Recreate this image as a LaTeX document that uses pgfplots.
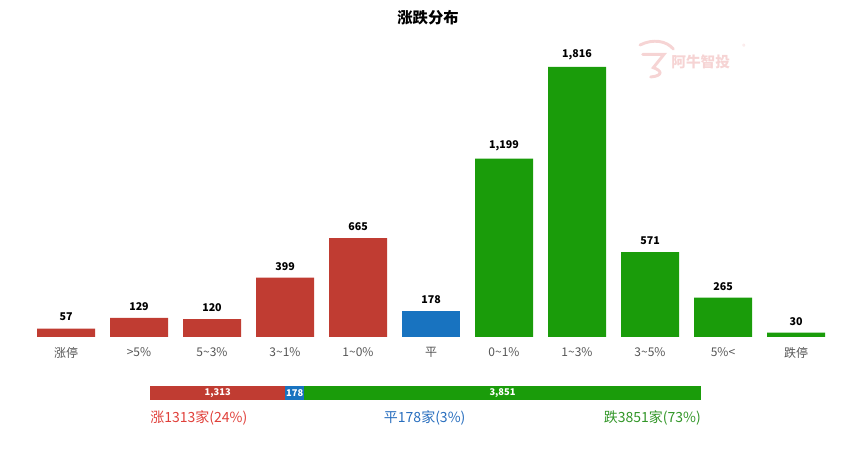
\documentclass[border=0pt]{standalone}
\usepackage{fontspec}
\setmainfont{Noto Sans CJK SC}
\usepackage{pgfplots}
\pgfplotsset{compat=1.18}

\definecolor{upred}{RGB}{192,60,50}
\definecolor{flatblue}{RGB}{24,115,192}
\definecolor{downgreen}{RGB}{26,156,10}
\definecolor{txtred}{RGB}{224,64,58}
\definecolor{txtblue}{RGB}{40,110,190}
\definecolor{txtgreen}{RGB}{50,150,40}
\definecolor{lblgray}{RGB}{85,85,85}
\definecolor{wmark}{RGB}{246,212,212}

% 1 px of the reference = 0.75pt
\begin{document}
\begin{tikzpicture}
\path[use as bounding box] (0,0) rectangle (642.75pt,336.75pt);

% title and watermark
\node[font=\fontsize{11.5pt}{12pt}\selectfont\bfseries] at (321pt,323.25pt) {涨跌分布};
\draw[wmark, line width=2.2pt, line cap=round]
  (480pt,303pt) .. controls (490pt,308pt) and (500pt,306pt) .. (505pt,300pt)
  (482pt,296pt) -- (498pt,296pt) -- (490pt,286pt) .. controls (496pt,284pt) and (498pt,280pt) .. (488pt,279pt);
\node[font=\fontsize{11pt}{12pt}\selectfont\bfseries, text=wmark, anchor=west] at (500pt,290.25pt) {阿牛智投};
\node[font=\fontsize{5pt}{6pt}\selectfont, text=wmark] at (558pt,301.5pt) {®};

% main bars
\begin{axis}[
  at={(22.125pt,84pt)}, anchor=south west,
  scale only axis, width=602.25pt, height=202.5pt,
  xmin=-0.5, xmax=10.5, ymin=0, ymax=1816,
  ybar, bar width=43.5pt,
  axis y line=none, axis x line=bottom,
  x axis line style={draw=none}, major tick length=0pt,
  xtick={0,...,10},
  xticklabels={涨停,>5\%,5\textasciitilde3\%,3\textasciitilde1\%,1\textasciitilde0\%,平,0\textasciitilde1\%,1\textasciitilde3\%,3\textasciitilde5\%,5\%<,跌停},
  xticklabel style={font=\fontsize{9pt}{10pt}\selectfont, text=lblgray, yshift=-4.5pt},
  nodes near coords,
  every node near coord/.append style={font=\fontsize{8pt}{9pt}\selectfont\bfseries, text=black, yshift=2pt},
  /pgf/number format/assume math mode=true,
  /pgf/number format/1000 sep={,},
  clip=false,
]
\addplot[fill=upred, draw=none, bar shift=0pt] coordinates {(0,57) (1,129) (2,120) (3,399) (4,665)};
\addplot[fill=flatblue, draw=none, bar shift=0pt] coordinates {(5,178)};
\addplot[fill=downgreen, draw=none, bar shift=0pt] coordinates {(6,1199) (7,1816) (8,571) (9,265) (10,30)};
\end{axis}

% summary stacked bar
\begin{axis}[
  at={(112.5pt,36.75pt)}, anchor=south west,
  scale only axis, width=413.25pt, height=10.5pt,
  xmin=0, xmax=5342, ymin=-0.5, ymax=0.5,
  xbar stacked, bar width=10.5pt,
  hide axis, clip=false,
]
\addplot[fill=upred, draw=none] coordinates {(1313,0)};
\addplot[fill=flatblue, draw=none] coordinates {(178,0)};
\addplot[fill=downgreen, draw=none] coordinates {(3851,0)};
\end{axis}

\tikzset{seglabel/.style={font=\fontsize{7pt}{8pt}\selectfont\bfseries, text=white, inner sep=0pt}}
\node[seglabel] at (163.3pt,42pt) {1,313};
\node[seglabel] at (221pt,42pt) {178};
\node[seglabel] at (376.9pt,42pt) {3,851};

\node[font=\fontsize{10.5pt}{11pt}\selectfont, text=txtred, anchor=west, inner sep=0pt] at (112.5pt,23.25pt) {涨1313家(24\%)};
\node[font=\fontsize{10.5pt}{11pt}\selectfont, text=txtblue, inner sep=0pt] at (318.5pt,23.25pt) {平178家(3\%)};
\node[font=\fontsize{10.5pt}{11pt}\selectfont, text=txtgreen, anchor=east, inner sep=0pt] at (525.75pt,23.25pt) {跌3851家(73\%)};
\end{tikzpicture}
\end{document}
